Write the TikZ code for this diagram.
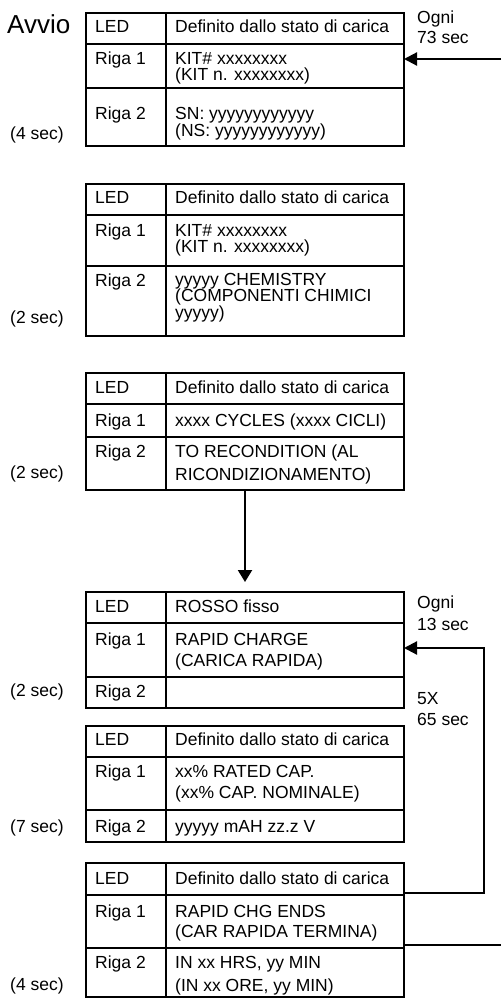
\documentclass[tikz,border=0pt]{standalone}
\usepackage{fontspec}
\setmainfont{Liberation Sans}
\usetikzlibrary{arrows.meta}

% A display table: outer frame, two row rules and the column rule.
% #1 name, #2 top, #3 first rule, #4 second rule, #5 bottom
\newcommand\tablebox[5]{%
  \node[tbl, minimum height={#5-#2}, anchor=north west] (#1) at (86,#2) {};
  \draw[rule] (#1.west |- 0,#3) -- (#1.east |- 0,#3);
  \draw[rule] (#1.west |- 0,#4) -- (#1.east |- 0,#4);
  \draw[rule] (#1.north -| 166,0) -- (#1.south -| 166,0);
}

\begin{document}
\begin{tikzpicture}[x=1pt,y=-1pt,
  tbl/.style={draw, line width=2.2pt, rectangle, inner sep=0pt, outer sep=0pt, minimum width=318},
  rule/.style={line width=2.2pt},
  txt/.style={inner sep=0pt, anchor=base west, font=\fontsize{17.5}{15}\selectfont},
  big/.style={inner sep=0pt, anchor=base west, font=\fontsize{26}{28}\selectfont},
  flow/.style={line width=2.2pt},
  tip/.style={-{Triangle[length=13pt,width=13pt]}}]
\useasboundingbox (0,0) rectangle (501,999);

% ---- tables ----
\tablebox{t1}{13}{44}{88}{146}
\tablebox{t2}{184}{215}{266}{336}
\tablebox{t3}{373}{404}{437}{490}
\tablebox{t4}{592}{623}{677}{708}
\tablebox{t5}{726}{757}{810}{842}
\tablebox{t6}{863}{895}{948}{997}

% ---- table 1 ----
\node[big] (avvio) at (7,33) {Avvio};
\node[txt] (t1a) at (95,32) {LED};
\node[txt] (t1b) at (175,32) {Definito dallo stato di carica};
\node[txt] (t1c) at (95,64) {Riga 1};
\node[txt] (t1d) at (175,64) {KIT\# xxxxxxxx};
\node[txt] (t1e) at (175,80) {(KIT n. xxxxxxxx)};
\node[txt] (t1f) at (95,119) {Riga 2};
\node[txt] (t1g) at (175,119) {SN: yyyyyyyyyyyy};
\node[txt] (t1h) at (175,136) {(NS: yyyyyyyyyyyy)};
\node[txt] (d1) at (10,139) {(4 sec)};

% ---- table 2 ----
\node[txt] (t2a) at (95,203) {LED};
\node[txt] (t2b) at (175,203) {Definito dallo stato di carica};
\node[txt] (t2c) at (95,236) {Riga 1};
\node[txt] (t2d) at (175,236) {KIT\# xxxxxxxx};
\node[txt] (t2e) at (175,252) {(KIT n. xxxxxxxx)};
\node[txt] (t2f) at (95,286) {Riga 2};
\node[txt] (t2g) at (175,285) {yyyyy CHEMISTRY};
\node[txt] (t2h) at (175,301) {(COMPONENTI CHIMICI};
\node[txt] (t2i) at (175,318) {yyyyy)};
\node[txt] (d2) at (10,323) {(2 sec)};

% ---- table 3 ----
\node[txt] (t3a) at (95,393) {LED};
\node[txt] (t3b) at (175,393) {Definito dallo stato di carica};
\node[txt] (t3c) at (95,426) {Riga 1};
\node[txt] (t3d) at (175,426) {xxxx CYCLES (xxxx CICLI)};
\node[txt] (t3e) at (95,457) {Riga 2};
\node[txt] (t3f) at (175,457) {TO RECONDITION (AL};
\node[txt] (t3g) at (175,480) {RICONDIZIONAMENTO)};
\node[txt] (d3) at (10,478) {(2 sec)};

% ---- table 4 ----
\node[txt] (t4a) at (95,612) {LED};
\node[txt] (t4b) at (175,612) {ROSSO fisso};
\node[txt] (t4c) at (95,645) {Riga 1};
\node[txt] (t4d) at (175,645) {RAPID CHARGE};
\node[txt] (t4e) at (175,666) {(CARICA RAPIDA)};
\node[txt] (t4f) at (95,697) {Riga 2};
\node[txt] (d4) at (10,696) {(2 sec)};

% ---- table 5 ----
\node[txt] (t5a) at (95,745) {LED};
\node[txt] (t5b) at (175,745) {Definito dallo stato di carica};
\node[txt] (t5c) at (95,777) {Riga 1};
\node[txt] (t5d) at (175,777) {xx\% RATED CAP.};
\node[txt] (t5e) at (175,798) {(xx\% CAP. NOMINALE)};
\node[txt] (t5f) at (95,832) {Riga 2};
\node[txt] (t5g) at (175,832) {yyyyy mAH zz.z V};
\node[txt] (d5) at (10,832) {(7 sec)};

% ---- table 6 ----
\node[txt] (t6a) at (95,884) {LED};
\node[txt] (t6b) at (175,884) {Definito dallo stato di carica};
\node[txt] (t6c) at (95,917) {Riga 1};
\node[txt] (t6d) at (175,917) {RAPID CHG ENDS};
\node[txt] (t6e) at (175,937) {(CAR RAPIDA TERMINA)};
\node[txt] (t6f) at (95,968) {Riga 2};
\node[txt] (t6g) at (175,968) {IN xx HRS, yy MIN};
\node[txt] (t6h) at (175,991) {(IN xx ORE, yy MIN)};
\node[txt] (d6) at (10,990) {(4 sec)};

% ---- side labels ----
\node[txt] (r1a) at (417,23) {Ogni};
\node[txt] (r1b) at (417,43) {73 sec};
\node[txt] (r2a) at (417,608) {Ogni};
\node[txt] (r2b) at (417,630) {13 sec};
\node[txt] (r3a) at (417,704) {5X};
\node[txt] (r3b) at (417,725) {65 sec};

% ---- connectors ----
\coordinate (inA) at (501,59);
\draw[flow,tip] (inA) -- (inA -| t1.east);

\draw[flow,-{Triangle[length=12pt,width=14pt]},shorten >=10pt] (t3.south) -- (t4.north);

\coordinate (loopB) at (484,893);
\coordinate (loopT) at (484,648);
\draw[flow,tip] (loopB -| t6.east) -- (loopB) -- (loopT) -- (loopT -| t4.east);

\coordinate (outR) at (501,945);
\draw[flow] (outR -| t6.east) -- (outR);
\end{tikzpicture}
\end{document}
